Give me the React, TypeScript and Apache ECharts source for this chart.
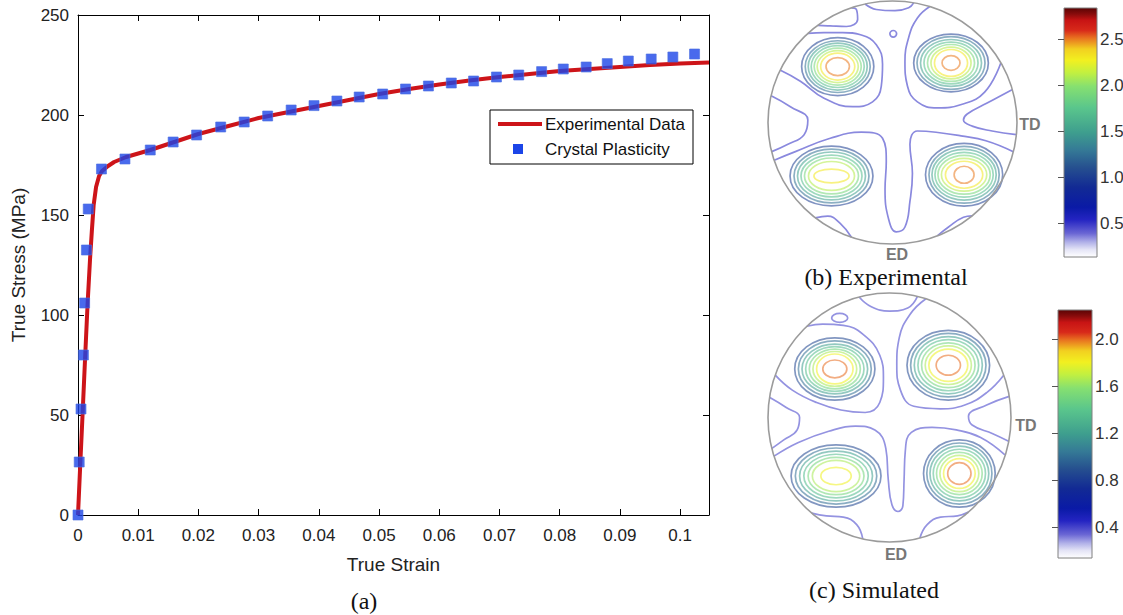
import React, { useEffect, useRef } from "react";
import * as echarts from "echarts";

// ---------------- (a) True stress / true strain ----------------
const expStrain = [0, 0.0004, 0.0008, 0.0012, 0.0016, 0.002, 0.0023, 0.0026, 0.003, 0.0035, 0.004, 0.005, 0.006, 0.008, 0.012, 0.016, 0.02, 0.025, 0.03, 0.035, 0.04, 0.045, 0.05, 0.055, 0.06, 0.065, 0.07, 0.075, 0.08, 0.085, 0.09, 0.095, 0.1, 0.1048];
const expStress = [0, 27, 53, 80, 106, 128, 142, 155, 164, 169.5, 172, 174.5, 176.5, 179, 182.5, 186.5, 190.5, 194.5, 198.5, 201.5, 204.5, 207.5, 210.5, 213, 215.3, 217.3, 219, 220.5, 222, 223, 224, 225, 225.7, 226.2];
const cpStrain = [0, 0.0002, 0.0005, 0.0009, 0.0011, 0.0014, 0.0017, 0.0039, 0.0078, 0.012, 0.0158, 0.0197, 0.0237, 0.0276, 0.0315, 0.0354, 0.0392, 0.043, 0.0467, 0.0506, 0.0544, 0.0582, 0.062, 0.0657, 0.0695, 0.0732, 0.077, 0.0806, 0.0844, 0.0879, 0.0914, 0.0952, 0.0988, 0.1024];
const cpStress = [0, 26.5, 53, 80, 106, 132.5, 153, 173, 178, 182.5, 186.5, 190, 194, 196.5, 199.5, 202.5, 204.7, 207, 209, 210.5, 213, 214.5, 216, 217, 219, 220, 221.7, 223, 224, 225.7, 227, 228, 229, 230.5];
const strainMax = 0.1048;
const stressMax = 250;
const stressStep = 50;
const strainStep = 0.01;

// ---------------- (b) Experimental pole figure (unit circle coords) ----------------
const levelsB = [1.0, 1.25, 1.5, 1.7, 1.9, 2.1, 2.3, 2.5];
const peakCentersB = [[-0.44, 0.46], [0.47, 0.49], [-0.49, -0.44], [0.575, -0.43]];
const ringRxB = [
  [0.29, 0.261, 0.237, 0.213, 0.189, 0.165, 0.137, 0.094],
  [0.3, 0.273, 0.245, 0.217, 0.189, 0.161, 0.133, 0.072],
  [0.333, 0.301, 0.273, 0.245, 0.217, 0.185, 0.141],
  [0.31, 0.282, 0.258, 0.234, 0.21, 0.182, 0.15, 0.08],
];
const ringRyB = [
  [0.238, 0.213, 0.193, 0.172, 0.152, 0.131, 0.111, 0.074],
  [0.238, 0.217, 0.193, 0.172, 0.152, 0.131, 0.111, 0.061],
  [0.246, 0.221, 0.197, 0.172, 0.148, 0.119, 0.057],
  [0.258, 0.234, 0.209, 0.184, 0.16, 0.135, 0.111, 0.07],
];
const spotsB = [[0.006, 0.73, 0.027, 0.027]];
const lowLevelB = 0.5;
const lowCurvesB = [
  [[-0.68, 0.733], [-0.55, 0.74], [-0.4, 0.74], [-0.25, 0.72], [-0.13, 0.64], [-0.08, 0.48], [-0.09, 0.3], [-0.16, 0.17], [-0.32, 0.13], [-0.55, 0.2], [-0.74, 0.34], [-0.9, 0.43]],
  [[0.3, 0.954], [0.2, 0.86], [0.13, 0.7], [0.1, 0.5], [0.12, 0.3], [0.2, 0.17], [0.36, 0.12], [0.56, 0.15], [0.74, 0.25], [0.87, 0.49]],
  [[-0.975, 0.22], [-0.82, 0.13], [-0.68, 0.02], [-0.71, -0.1], [-0.84, -0.18], [-0.97, -0.24]],
  [[0.96, 0.27], [0.76, 0.16], [0.6, 0.07], [0.57, 0.02], [0.64, -0.03], [0.8, -0.07], [0.995, -0.1]],
  [[-0.95, -0.31], [-0.78, -0.24], [-0.5, -0.13], [-0.25, -0.08], [-0.08, -0.13], [-0.05, -0.32], [-0.06, -0.55], [-0.03, -0.8], [0.03, -0.9], [0.1, -0.86], [0.14, -0.65], [0.16, -0.42], [0.14, -0.18], [0.2, -0.07], [0.35, -0.08], [0.55, -0.11], [0.75, -0.15], [0.97, -0.24]],
  [[-0.62, -0.785], [-0.52, -0.77], [-0.42, -0.83], [-0.33, -0.944]],
  [[0.36, -0.933], [0.45, -0.86], [0.57, -0.78], [0.64, -0.768]],
  [[-0.22, 0.975], [-0.13, 0.93], [0.02, 0.92], [0.13, 0.945], [0.17, 0.985]],
  [[-0.6, 0.8], [-0.5, 0.795], [-0.37, 0.79], [-0.28, 0.85], [-0.29, 0.93], [-0.33, 0.944]],
];
const colorRangeB = [0.13, 2.84];
const colorTicksB = [0.5, 1.0, 1.5, 2.0, 2.5];

// ---------------- (c) Simulated pole figure ----------------
const levelsC = [0.85, 1.0, 1.2, 1.35, 1.5, 1.65, 1.8, 2.0];
const peakCentersC = [[-0.45, 0.39], [0.484, 0.42], [-0.44, -0.47], [0.575, -0.45]];
const ringRxC = [
  [0.33, 0.3, 0.27, 0.24, 0.21, 0.18, 0.15, 0.099],
  [0.34, 0.31, 0.28, 0.25, 0.22, 0.19, 0.16, 0.1],
  [0.37, 0.335, 0.3, 0.265, 0.23, 0.195, 0.125],
  [0.295, 0.268, 0.242, 0.215, 0.188, 0.16, 0.13, 0.096],
];
const ringRyC = [
  [0.25, 0.225, 0.2, 0.18, 0.16, 0.14, 0.12, 0.072],
  [0.28, 0.255, 0.23, 0.205, 0.18, 0.155, 0.13, 0.08],
  [0.25, 0.225, 0.2, 0.175, 0.15, 0.125, 0.07],
  [0.27, 0.245, 0.22, 0.195, 0.17, 0.145, 0.12, 0.087],
];
const spotsC = [[-0.41, 0.8, 0.066, 0.036]];
const lowLevelC = 0.4;
const lowCurvesC = [
  [[-0.68, 0.733], [-0.55, 0.75], [-0.38, 0.74], [-0.22, 0.67], [-0.08, 0.5], [-0.05, 0.32], [-0.08, 0.12], [-0.2, 0.04], [-0.4, 0.06], [-0.6, 0.12], [-0.8, 0.22], [-0.94, 0.34]],
  [[0.3, 0.954], [0.17, 0.83], [0.08, 0.64], [0.06, 0.42], [0.09, 0.22], [0.2, 0.09], [0.42, 0.07], [0.62, 0.1], [0.8, 0.2], [0.94, 0.34]],
  [[-0.985, 0.16], [-0.85, 0.08], [-0.74, 0.0], [-0.76, -0.1], [-0.87, -0.18], [-0.97, -0.25]],
  [[0.985, 0.17], [0.8, 0.1], [0.65, 0.01], [0.68, -0.06], [0.85, -0.13], [0.98, -0.19]],
  [[-0.95, -0.31], [-0.75, -0.2], [-0.5, -0.11], [-0.28, -0.07], [-0.12, -0.1], [-0.03, -0.25], [-0.01, -0.5], [0.02, -0.7], [0.07, -0.755], [0.11, -0.71], [0.12, -0.5], [0.13, -0.27], [0.18, -0.12], [0.35, -0.08], [0.55, -0.1], [0.75, -0.16], [0.95, -0.3]],
  [[-0.64, -0.768], [-0.52, -0.79], [-0.38, -0.8], [-0.27, -0.86], [-0.22, -0.975]],
  [[0.25, -0.968], [0.31, -0.86], [0.42, -0.8], [0.56, -0.79], [0.65, -0.76]],
  [[-0.25, 0.968], [-0.15, 0.89], [0, 0.855], [0.15, 0.88], [0.23, 0.973]],
];
const colorRangeC = [0.14, 2.25];
const colorTicksC = [0.4, 0.8, 1.2, 1.6, 2.0];

// ---------------- styling ----------------
const SANS = '"Liberation Sans", Arial, sans-serif';
const SERIF = '"Liberation Serif", "Times New Roman", serif';
const RED = "#cd1419";
const BLUE = "#1b45e8";
const CMAP_STOPS: [number, string][] = [
  [0, "#ffffff"], [0.03, "#e4e4f6"], [0.06, "#b0b0e8"], [0.095, "#6a66d4"], [0.15, "#2424c2"],
  [0.2, "#0a1aa6"], [0.28, "#122a94"], [0.36, "#26508f"], [0.43, "#357a96"], [0.5, "#3e9e8e"],
  [0.6, "#5ac68c"], [0.685, "#86e070"], [0.74, "#c2f040"], [0.79, "#f2f020"], [0.835, "#f2d020"],
  [0.88, "#e87020"], [0.91, "#d82a1a"], [0.95, "#c81414"], [0.975, "#8a0c0c"], [1, "#5a0404"],
];

function hexRgb(h: string) {
  const n = parseInt(h.slice(1), 16);
  return [(n >> 16) & 255, (n >> 8) & 255, n & 255];
}
function cmapLight(t: number, alpha: number) {
  const tt = Math.max(0, Math.min(1, t));
  let i = 0;
  while (i < CMAP_STOPS.length - 2 && CMAP_STOPS[i + 1][0] < tt) i++;
  const [o0, c0] = CMAP_STOPS[i];
  const [o1, c1] = CMAP_STOPS[i + 1];
  const f = o1 === o0 ? 0 : (tt - o0) / (o1 - o0);
  const a = hexRgb(c0), b = hexRgb(c1);
  const rgb = a.map((v, k) => v + (b[k] - v) * f).map((v) => Math.round(v * alpha + 255 * (1 - alpha)));
  return `rgb(${rgb[0]},${rgb[1]},${rgb[2]})`;
}

function buildRings(centers: number[][], rx: number[][], ry: number[][], levels: number[], spots: number[][], low: number) {
  const out: number[][] = [];
  centers.forEach((c, i) => rx[i].forEach((r, j) => out.push([c[0], c[1], r, ry[i][j], levels[j]])));
  spots.forEach((s) => out.push([s[0], s[1], s[2], s[3], low]));
  return out;
}

const RING_ALPHA = 0.56;
const CURVE_ALPHA = 0.58;

function ringSeries(axis: number, range: number[], data: number[][]) {
  return {
    type: "custom",
    xAxisIndex: axis,
    yAxisIndex: axis,
    silent: true,
    z: 3,
    data,
    renderItem: (params: any, api: any) => {
      const c = api.coord([api.value(0), api.value(1)]);
      const s = api.size([api.value(2), api.value(3)]);
      const t = (api.value(4) - range[0]) / (range[1] - range[0]);
      return {
        type: "ellipse",
        shape: { cx: c[0], cy: c[1], rx: s[0], ry: s[1] },
        style: { fill: "none", stroke: cmapLight(t, t < 0.2 ? CURVE_ALPHA : RING_ALPHA), lineWidth: 1.7 },
      };
    },
  };
}

function curveSeries(axis: number, range: number[], level: number, curves: number[][][]) {
  const col = cmapLight((level - range[0]) / (range[1] - range[0]), CURVE_ALPHA);
  return curves.map((pts) => ({
    type: "line",
    xAxisIndex: axis,
    yAxisIndex: axis,
    data: pts,
    smooth: 0.45,
    symbol: "none",
    silent: true,
    z: 3,
    lineStyle: { color: col, width: 1.7 },
  }));
}

function rimSeries(axis: number) {
  return {
    type: "custom",
    xAxisIndex: axis,
    yAxisIndex: axis,
    silent: true,
    z: 4,
    data: [[0, 0]],
    renderItem: (params: any, api: any) => {
      const c = api.coord([0, 0]);
      const s = api.size([1, 1]);
      return {
        type: "ellipse",
        shape: { cx: c[0], cy: c[1], rx: s[0], ry: s[1] },
        style: { fill: "none", stroke: "#9b9b9b", lineWidth: 1.6 },
      };
    },
  };
}

function colorbarSeries(axis: number, range: number[]) {
  return {
    type: "custom",
    xAxisIndex: axis,
    yAxisIndex: axis,
    silent: true,
    z: 1,
    data: [[0, range[0], 1, range[1]]],
    renderItem: (params: any, api: any) => {
      const p0 = api.coord([api.value(0), api.value(3)]);
      const p1 = api.coord([api.value(2), api.value(1)]);
      return {
        type: "rect",
        shape: { x: p0[0], y: p0[1], width: p1[0] - p0[0], height: p1[1] - p0[1] },
        style: {
          fill: new echarts.graphic.LinearGradient(0, 1, 0, 0, CMAP_STOPS.map(([o, c]) => ({ offset: o, color: c }))),
          stroke: "#808080",
          lineWidth: 1,
        },
      };
    },
  };
}

function colorbarAxis(grid: number, range: number[], ticks: number[]) {
  return {
    type: "value",
    gridIndex: grid,
    min: range[0],
    max: range[1],
    position: "right",
    z: 6,
    axisLine: { show: false },
    splitLine: { show: false },
    axisTick: { show: true, inside: true, length: 6, lineStyle: { color: "#555" }, customValues: ticks },
    axisLabel: {
      show: true, margin: 3, fontSize: 17, color: "#333", fontFamily: SANS,
      customValues: ticks, formatter: (v: number) => v.toFixed(1),
    },
  };
}

const hiddenAxis = (grid: number, min: number, max: number) => ({ type: "value", gridIndex: grid, min, max, show: false });

const mainTick = { show: true, inside: true, length: 6, lineStyle: { color: "#000", width: 1 } };
const mainLine = { show: true, onZero: false, lineStyle: { color: "#000", width: 1 } };

const strainFmt = (v: number) => {
  const k = Math.round(v * 100);
  if (Math.abs(v * 100 - k) > 1e-6) return "";
  return k === 0 ? "0" : String(k / 100);
};

function txt(x: number, y: number, text: string, font: string, fill: string, align = "center") {
  return {
    type: "text",
    x,
    y,
    z: 100,
    style: { text, font, fill, align, verticalAlign: "middle", textAlign: align, textVerticalAlign: "middle" },
  };
}

function buildOption() {
  const grids = [
    { left: 78, top: 15, width: 631, height: 500 },
    { left: 768, top: 1, width: 249, height: 243 },
    { left: 768, top: 293, width: 243, height: 249 },
    { left: 1064, top: 8, width: 33, height: 249 },
    { left: 1058, top: 310, width: 34, height: 248 },
  ].map((g) => ({ ...g, show: false, containLabel: false, outerBoundsMode: "none" }));

  const xAxis = [
    {
      type: "value", gridIndex: 0, min: 0, max: strainMax, interval: strainStep, position: "bottom",
      axisLine: mainLine, axisTick: mainTick, splitLine: { show: false },
      axisLabel: { fontSize: 17, color: "#222", fontFamily: SANS, margin: 12, showMaxLabel: false, formatter: strainFmt },
      name: "True Strain", nameLocation: "middle", nameGap: 40,
      nameTextStyle: { fontSize: 19, color: "#222", fontFamily: SANS },
    },
    {
      type: "value", gridIndex: 0, min: 0, max: strainMax, interval: strainStep, position: "top",
      axisLine: mainLine, axisTick: mainTick, splitLine: { show: false }, axisLabel: { show: false },
    },
    hiddenAxis(1, -1, 1),
    hiddenAxis(2, -1, 1),
    hiddenAxis(3, 0, 1),
    hiddenAxis(4, 0, 1),
  ];
  const yAxis = [
    {
      type: "value", gridIndex: 0, min: 0, max: stressMax, interval: stressStep, position: "left",
      axisLine: mainLine, axisTick: mainTick, splitLine: { show: false },
      axisLabel: { fontSize: 17, color: "#222", fontFamily: SANS, margin: 9 },
      name: "True Stress (MPa)", nameLocation: "middle", nameGap: 50,
      nameTextStyle: { fontSize: 19, color: "#222", fontFamily: SANS },
    },
    {
      type: "value", gridIndex: 0, min: 0, max: stressMax, interval: stressStep, position: "right",
      axisLine: mainLine, axisTick: mainTick, splitLine: { show: false }, axisLabel: { show: false },
    },
    hiddenAxis(1, -1, 1),
    hiddenAxis(2, -1, 1),
    colorbarAxis(3, colorRangeB, colorTicksB),
    colorbarAxis(4, colorRangeC, colorTicksC),
  ];

  const series: any[] = [
    {
      type: "line", name: "Experimental Data", xAxisIndex: 0, yAxisIndex: 0,
      data: expStrain.map((x, i) => [x, expStress[i]]),
      symbol: "none", showSymbol: false, z: 2,
      lineStyle: { color: RED, width: 4 }, itemStyle: { color: RED },
    },
    {
      type: "scatter", name: "Crystal Plasticity", xAxisIndex: 0, yAxisIndex: 0,
      data: cpStrain.map((x, i) => [x, cpStress[i]]),
      symbol: "rect", symbolSize: 10, z: 3, clip: false,
      itemStyle: { color: BLUE, borderColor: "#4d6fe0", borderWidth: 0.8 },
    },
    ringSeries(2, colorRangeB, buildRings(peakCentersB, ringRxB, ringRyB, levelsB, spotsB, lowLevelB)),
    ...curveSeries(2, colorRangeB, lowLevelB, lowCurvesB),
    rimSeries(2),
    ringSeries(3, colorRangeC, buildRings(peakCentersC, ringRxC, ringRyC, levelsC, spotsC, lowLevelC)),
    ...curveSeries(3, colorRangeC, lowLevelC, lowCurvesC),
    rimSeries(3),
    colorbarSeries(4, colorRangeB),
    colorbarSeries(5, colorRangeC),
  ];

  const legendFont = `17px ${SANS}`;
  const labelFont = `bold 16px ${SANS}`;
  const titleFont = `24px ${SERIF}`;
  const graphic = [
    {
      type: "group",
      z: 100,
      children: [
        { type: "rect", z: 100, shape: { x: 490, y: 110, width: 203, height: 54 }, style: { fill: "#fff", stroke: "#000", lineWidth: 1 } },
        { type: "line", z: 101, shape: { x1: 498, y1: 124, x2: 542, y2: 124 }, style: { stroke: RED, lineWidth: 4 } },
        { type: "rect", z: 101, shape: { x: 513, y: 144, width: 10, height: 10 }, style: { fill: BLUE } },
        txt(545, 124, "Experimental Data", legendFont, "#111", "left"),
        txt(545, 149, "Crystal Plasticity", legendFont, "#111", "left"),
      ],
    },
    txt(364, 601, "(a)", titleFont, "#111"),
    txt(886, 277, "(b) Experimental", titleFont, "#111"),
    txt(874, 590, "(c) Simulated", titleFont, "#111"),
    txt(1030, 124, "TD", labelFont, "#777"),
    txt(897, 254, "ED", labelFont, "#777"),
    txt(1026, 425, "TD", labelFont, "#777"),
    txt(896, 554, "ED", labelFont, "#777"),
  ];

  return {
    animation: false,
    backgroundColor: "#ffffff",
    textStyle: { fontFamily: SANS },
    grid: grids,
    xAxis,
    yAxis,
    series,
    graphic,
  };
}

export default function App() {
  const ref = useRef<HTMLDivElement>(null);
  useEffect(() => {
    if (!ref.current) return;
    const chart = echarts.init(ref.current, null, { renderer: "svg" });
    chart.setOption(buildOption() as any);
    return () => chart.dispose();
  }, []);
  return (
    <div
      ref={ref}
      style={{ position: "fixed", left: 0, top: 0, width: 1123, height: 615, background: "#fff" }}
    />
  );
}
